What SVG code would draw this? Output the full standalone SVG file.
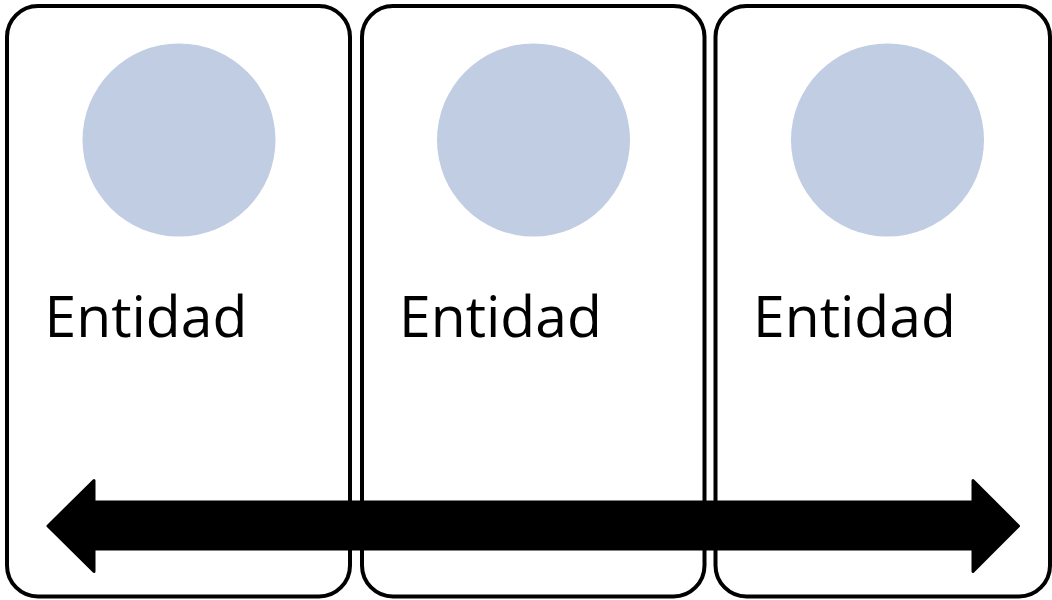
<svg xmlns="http://www.w3.org/2000/svg" width="1052" height="600" viewBox="0 0 1052 600">
  <style>
    .box { fill: #ffffff; stroke: #000000; stroke-width: 4; }
    .dot { fill: #c0cde2; }
    .lbl { font-family: "Open Sans", "Liberation Sans", Arial, sans-serif; font-size: 57px; fill: #000000; }
    .arrow { fill: #000000; stroke: #000000; stroke-width: 3; stroke-linejoin: round; }
  </style>
  <rect width="1052" height="600" fill="#ffffff"/>
  <g id="node1">
    <rect class="box" x="7" y="6" width="343" height="590.5" rx="31" ry="31"/>
    <circle class="dot" cx="179" cy="140" r="96.5"/>
    <text class="lbl" x="44.5" y="337">Entidad</text>
  </g>
  <g id="node2">
    <rect class="box" x="362" y="6" width="342.5" height="590.5" rx="31" ry="31"/>
    <circle class="dot" cx="533.5" cy="140" r="96.5"/>
    <text class="lbl" x="399" y="337">Entidad</text>
  </g>
  <g id="node3">
    <rect class="box" x="715.5" y="6" width="334.5" height="590.5" rx="31" ry="31"/>
    <circle class="dot" cx="887.5" cy="140" r="96.5"/>
    <text class="lbl" x="753" y="337">Entidad</text>
  </g>
  <g id="connectors">
    <polygon class="arrow" points="48,526 94,480.5 94,502 973,502 973,480.5 1018.5,526 973,571.5 973,549 94,549 94,571.5"/>
  </g>
</svg>
